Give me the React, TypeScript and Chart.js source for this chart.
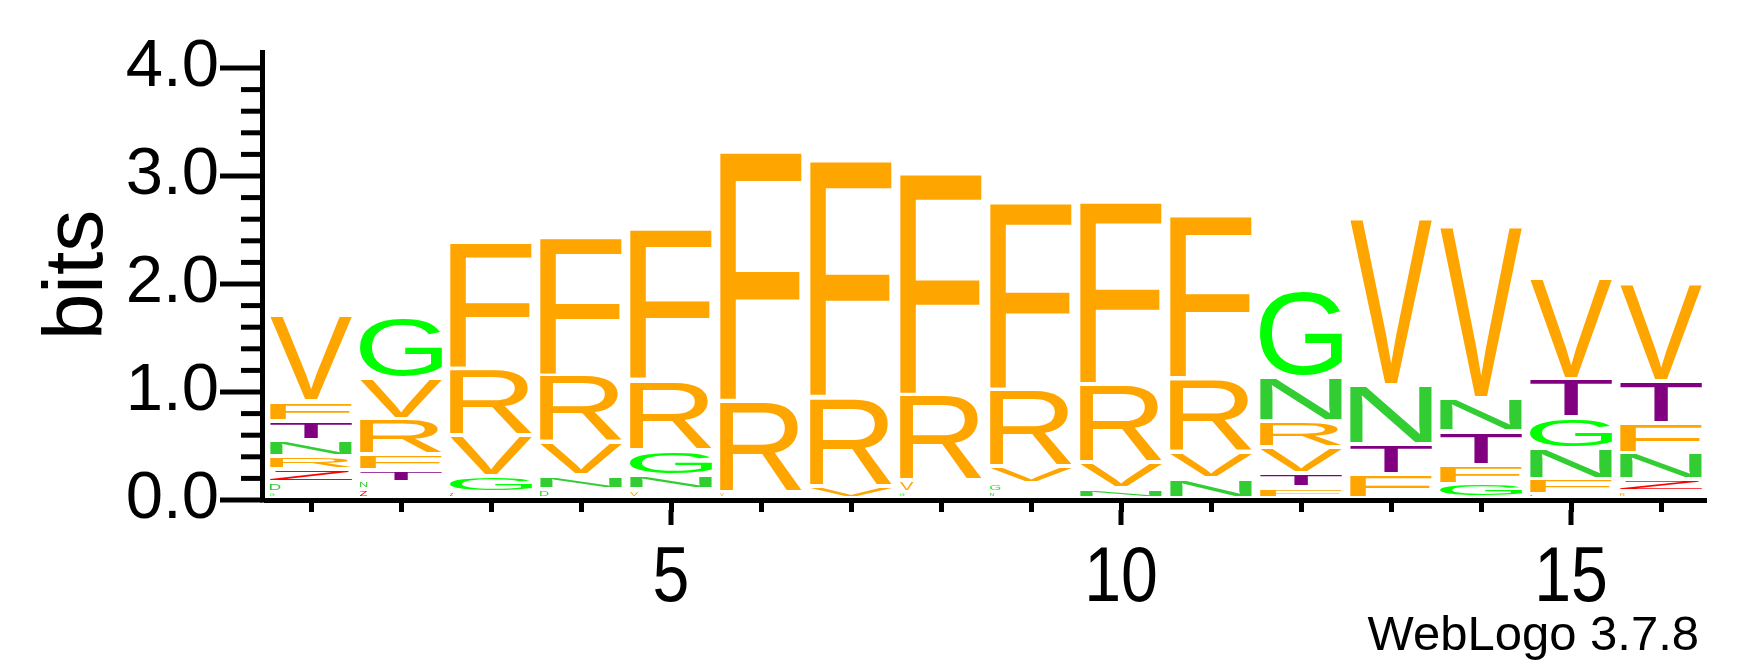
import { useEffect, useRef } from "react";
import { Chart, registerables } from "chart.js";

Chart.register(...registerables);

// Sequence positions (x categories)
const positions = ["1", "2", "3", "4", "5", "6", "7", "8", "9", "10", "11", "12", "13", "14", "15", "16"];

// Letters of each stack, bottom -> top
const stackLetters = [
  "GDZRNTFV",
  "ZNTFRVG",
  "ZGVRF",
  "DNVRF",
  "VNGRF",
  "VRF",
  "VRF",
  "GVRF",
  "NGVRF",
  "NVRF",
  "NVRF",
  "FTVRNG",
  "FTNV",
  "GFTNV",
  "ZFNGTV",
  "RZNFTV",
];

// Letter heights in bits, bottom -> top (same order as stackLetters)
const stackHeights = [
  [0.074, 0.093, 0.123, 0.122, 0.146, 0.178, 0.181, 0.796],
  [0.102, 0.069, 0.111, 0.141, 0.33, 0.377, 0.56],
  [0.069, 0.151, 0.38, 0.616, 1.18],
  [0.105, 0.122, 0.303, 0.631, 1.277],
  [0.1, 0.132, 0.229, 0.651, 1.405],
  [0.071, 0.848, 2.312],
  [0.127, 0.829, 2.193],
  [0.074, 0.102, 0.798, 2.054],
  [0.074, 0.086, 0.15, 0.713, 1.736],
  [0.111, 0.236, 0.726, 1.693],
  [0.204, 0.236, 0.687, 1.512],
  [0.123, 0.129, 0.237, 0.241, 0.409, 0.808],
  [0.243, 0.278, 0.547, 1.544],
  [0.151, 0.176, 0.31, 0.31, 1.593],
  [0.058, 0.138, 0.284, 0.284, 0.361, 0.94],
  [0.083, 0.109, 0.244, 0.278, 0.389, 0.906],
];

const letterColors: Record<string, string> = {
  F: "#FFA500",
  R: "#FFA500",
  V: "#FFA500",
  G: "#00FF00",
  N: "#32CD32",
  D: "#32CD32",
  T: "#800080",
  Z: "#FF0000",
};

// Axis settings
const yMax = 4.1667;
const yLabelStep = 1;
const yMinorStep = 0.2;
const yTickTop = 4;
const xLabelEvery = 5;
const yTitle = "bits";
const creditText = "WebLogo 3.7.8";

const FONT = '"Liberation Sans", Arial, Helvetica, sans-serif';

const measureCache: Record<string, TextMetrics> = {};

const zeroPadding = (s: any) => {
  s.paddingTop = 0;
  s.paddingBottom = 0;
  s.paddingLeft = 0;
  s.paddingRight = 0;
};

const logoPlugin = {
  id: "logoLetters",
  afterDatasetsDraw(chart: any) {
    const ctx: CanvasRenderingContext2D = chart.ctx;
    ctx.save();
    ctx.font = `200px ${FONT}`;
    ctx.textAlign = "left";
    ctx.textBaseline = "alphabetic";
    chart.data.datasets.forEach((_ds: any, k: number) => {
      const meta = chart.getDatasetMeta(k);
      meta.data.forEach((bar: any, i: number) => {
        const ch = stackLetters[i][k];
        const v = stackHeights[i][k];
        if (!ch || v == null) return;
        const p = bar.getProps(["x", "y", "base", "width"], true);
        const top = Math.min(p.y, p.base);
        const bot = Math.max(p.y, p.base);
        const h = bot - top;
        const inset = Math.min(2, h * 0.2);
        const yTop = top + inset;
        const yBot = bot - inset - (k === 0 ? 2.5 : 0);
        const inkHpx = yBot - yTop;
        if (inkHpx <= 0.3) return;
        if (!measureCache[ch]) measureCache[ch] = ctx.measureText(ch);
        const m = measureCache[ch];
        const L = m.actualBoundingBoxLeft;
        const inkW = L + m.actualBoundingBoxRight;
        const inkH = m.actualBoundingBoxAscent + m.actualBoundingBoxDescent;
        const x0 = p.x - p.width / 2;
        let w = p.width;
        if (h < 11.5) {
          w = Math.min(p.width, (inkW / inkH) * inkHpx * 2);
        }
        const sx = w / inkW;
        const sy = inkHpx / inkH;
        ctx.save();
        ctx.translate(x0, yBot);
        ctx.scale(sx, sy);
        ctx.fillStyle = letterColors[ch] || "#000";
        ctx.fillText(ch, L, -m.actualBoundingBoxDescent);
        ctx.restore();
      });
    });
    ctx.restore();
  },
  afterDraw(chart: any) {
    const ctx: CanvasRenderingContext2D = chart.ctx;
    const { chartArea, scales } = chart;
    const ys = scales.y;
    const xs = scales.x;
    ctx.save();
    ctx.strokeStyle = "#000";
    ctx.lineCap = "butt";
    ctx.lineWidth = 5;
    const axisX = chartArea.left - 3.5;
    ctx.beginPath();
    ctx.moveTo(axisX, chartArea.top);
    ctx.lineTo(axisX, chartArea.bottom + 2.5);
    ctx.stroke();
    const n = Math.round(yTickTop / yMinorStep);
    const perMajor = Math.round(yLabelStep / yMinorStep);
    for (let i = 0; i <= n; i++) {
      const py = ys.getPixelForValue(i * yMinorStep);
      const len = i % perMajor === 0 ? 42.5 : 21.5;
      ctx.beginPath();
      ctx.moveTo(axisX - len, py);
      ctx.lineTo(axisX, py);
      ctx.stroke();
    }
    // major x ticks (longer) and their labels, drawn slightly condensed
    ctx.fillStyle = "#000";
    ctx.font = `77px ${FONT}`;
    ctx.textAlign = "center";
    ctx.textBaseline = "alphabetic";
    positions.forEach((label, i) => {
      if ((i + 1) % xLabelEvery !== 0) return;
      const px = xs.getPixelForValue(i);
      ctx.beginPath();
      ctx.moveTo(px, chartArea.bottom + 10);
      ctx.lineTo(px, chartArea.bottom + 25);
      ctx.stroke();
      ctx.save();
      ctx.translate(px, chartArea.bottom + 101);
      ctx.scale(0.86, 1);
      ctx.fillText(label, 0, 0);
      ctx.restore();
    });
    ctx.font = `49px ${FONT}`;
    ctx.textAlign = "right";
    ctx.fillText(creditText, chart.width - 51, 650);
    ctx.restore();
  },
};

export default function App() {
  const ref = useRef<HTMLCanvasElement>(null);
  useEffect(() => {
    const canvas = ref.current;
    if (!canvas) return;
    const maxLevels = Math.max(...stackLetters.map((s) => s.length));
    const datasets = Array.from({ length: maxLevels }, (_, k) => ({
      label: `level ${k + 1}`,
      data: stackHeights.map((h) => (h[k] == null ? null : h[k])),
      backgroundColor: "rgba(0,0,0,0)",
      borderWidth: 0,
      barPercentage: 0.911,
      categoryPercentage: 1,
    }));
    const chart = new Chart(canvas, {
      type: "bar",
      data: { labels: positions, datasets: datasets as any },
      options: {
        animation: false,
        responsive: false,
        devicePixelRatio: 1,
        layout: { padding: { top: 50, right: 44, bottom: 0, left: 0 }, autoPadding: false } as any,
        plugins: {
          legend: { display: false },
          tooltip: { enabled: false },
          title: { display: false },
        },
        scales: {
          x: {
            stacked: true,
            offset: true,
            grid: {
              display: true,
              drawOnChartArea: false,
              drawTicks: true,
              tickLength: 12,
              tickWidth: 5,
              tickColor: "#000",
              offset: false,
            },
            border: { display: true, width: 5, color: "#000" },
            ticks: {
              autoSkip: false,
              maxRotation: 0,
              minRotation: 0,
              padding: 15,
              color: "#000",
              font: { family: FONT, size: 77 },
              callback: () => "",
            },
            afterFit: (s: any) => {
              s.height = 167;
              zeroPadding(s);
            },
          },
          y: {
            stacked: true,
            min: 0,
            max: yMax,
            grid: { display: false },
            border: { display: false },
            ticks: {
              stepSize: yLabelStep,
              includeBounds: false,
              padding: 39,
              color: "#000",
              font: { family: FONT, size: 67 },
              callback: (v: any) => Number(v).toFixed(1),
            },
            title: {
              display: true,
              text: yTitle,
              color: "#000",
              font: { family: FONT, size: 84 },
              padding: { top: 28, bottom: 0 },
            },
            afterFit: (s: any) => {
              s.width = 266;
              zeroPadding(s);
            },
          },
        },
      } as any,
      plugins: [logoPlugin],
    });
    return () => chart.destroy();
  }, []);
  return (
    <div style={{ position: "fixed", left: 0, top: 0, width: 1750, height: 667, background: "#fff" }}>
      <canvas ref={ref} width={1750} height={667} style={{ display: "block", width: 1750, height: 667 }} />
    </div>
  );
}
